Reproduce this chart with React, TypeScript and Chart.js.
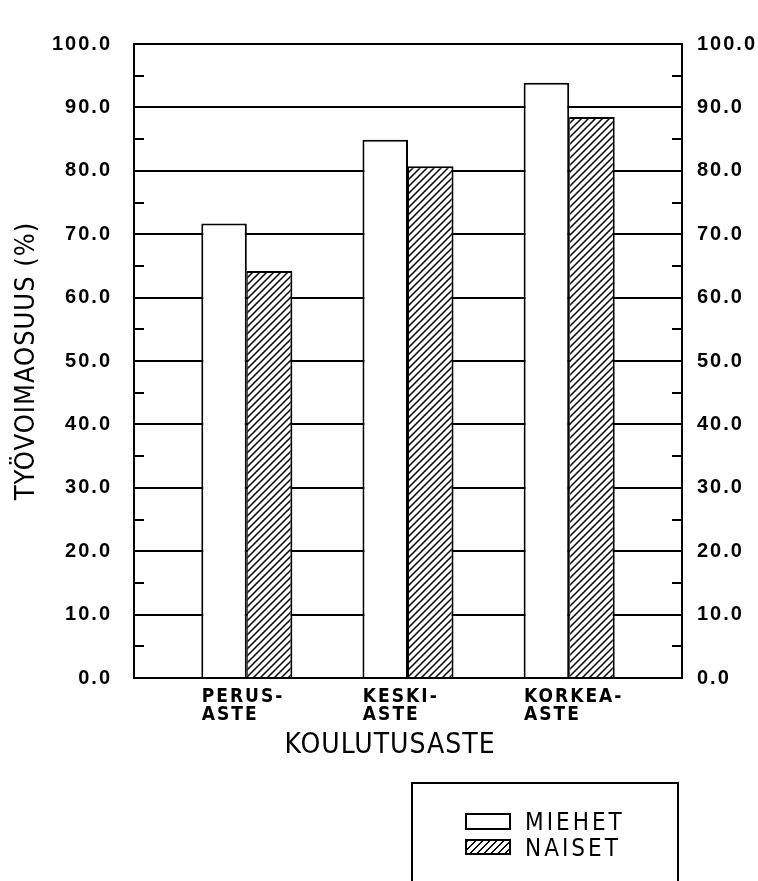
import React, { useEffect, useRef } from "react";
import { Chart, registerables } from "chart.js";

Chart.register(...registerables);

// ---- data ----
const CATEGORIES: string[][] = [
  ["PERUS-", "ASTE"],
  ["KESKI-", "ASTE"],
  ["KORKEA-", "ASTE"],
];
const CATEGORY_INDEX = [0, 1, 2];
const SERIES_NAMES = ["MIEHET", "NAISET"];
const MIEHET = [71.7, 84.9, 93.9];
const NAISET = [64.2, 80.7, 88.5];
const Y_MIN = 0;
const Y_MAX = 100;
const Y_STEP = 5;
const Y_LABEL_STEP = 10;
const X_TITLE = "KOULUTUSASTE";
const Y_TITLE = "TYÖVOIMAOSUUS (%)";

const NARROW = "'Liberation Sans Narrow', 'DejaVu Sans Condensed', 'Arial Narrow', sans-serif";
const SANS = "'Liberation Sans', Arial, sans-serif";

function makeHatch(ctx: CanvasRenderingContext2D) {
  const c = document.createElement("canvas");
  c.width = 7;
  c.height = 7;
  const g = c.getContext("2d")!;
  g.fillStyle = "#fff";
  g.fillRect(0, 0, 7, 7);
  g.strokeStyle = "#000";
  g.lineWidth = 1.5;
  g.beginPath();
  g.moveTo(-1, 8);
  g.lineTo(8, -1);
  g.moveTo(-1, 1);
  g.lineTo(1, -1);
  g.moveTo(6, 8);
  g.lineTo(8, 6);
  g.stroke();
  return ctx.createPattern(c, "repeat");
}

const yTickLabel = (v: any) => {
  const n = Number(v);
  return n % Y_LABEL_STEP === 0 ? n.toFixed(1) : "";
};

const spacingPlugin = {
  id: "spacing",
  beforeDraw(chart: any) {
    chart.ctx.letterSpacing = "1px";
  },
  afterDatasetsDraw(chart: any) {
    chart.ctx.letterSpacing = "2px";
  },
};

export default function App() {
  const ref = useRef<HTMLCanvasElement | null>(null);

  useEffect(() => {
    const canvas = ref.current!;
    const ctx = canvas.getContext("2d")!;
    const hatch = makeHatch(ctx);

    const yTicks = (padding: number) => ({
      stepSize: Y_STEP,
      maxTicksLimit: 50,
      autoSkip: false,
      callback: yTickLabel,
      font: { family: SANS, size: 20, weight: "bold" as const },
      color: "#000",
      padding,
      z: 1,
    });

    const chart = new Chart(ctx, {
      type: "bar",
      data: {
        datasets: [
          {
            label: SERIES_NAMES[0],
            data: CATEGORY_INDEX.map((i) => ({ x: i, y: MIEHET[i] })),
            backgroundColor: "#fff",
            borderColor: "#000",
            borderWidth: { left: 2, top: 2, right: 2, bottom: 0 },
            borderSkipped: false,
            categoryPercentage: 0.565,
            barPercentage: 1,
            xAxisID: "x",
            yAxisID: "y",
          },
          {
            label: SERIES_NAMES[1],
            data: CATEGORY_INDEX.map((i) => ({ x: i, y: NAISET[i] })),
            backgroundColor: hatch as any,
            borderColor: "#000",
            borderWidth: { left: 1, top: 2, right: 2, bottom: 0 },
            borderSkipped: false,
            categoryPercentage: 0.565,
            barPercentage: 1,
            xAxisID: "x",
            yAxisID: "y",
          },
        ],
      },
      options: {
        animation: false,
        responsive: false,
        maintainAspectRatio: false,
        layout: { padding: { left: 0, right: 0, top: 24, bottom: 118 } },
        plugins: {
          legend: { display: false },
          tooltip: { enabled: false },
        },
        scales: {
          x: {
            type: "linear",
            position: "bottom",
            min: -0.7,
            max: 2.7,
            offset: false,
            afterBuildTicks: (s: any) => {
              s.ticks = CATEGORY_INDEX.map((i) => ({ value: i - 0.28 }));
            },
            ticks: {
              autoSkip: false,
              maxRotation: 0,
              minRotation: 0,
              align: "start",
              callback: (_v: any, i: number) => CATEGORIES[i],
              font: { family: NARROW, size: 19, weight: "bold", lineHeight: 0.9 },
              color: "#000",
              padding: 11,
              z: 1,
            },
            grid: { display: false, drawTicks: false },
            border: { display: true, color: "#000", width: 2 },
            title: {
              display: true,
              text: X_TITLE + "\u00a0\u00a0\u00a0\u00a0",
              font: { family: NARROW, size: 28 },
              color: "#000",
              padding: { top: 0, bottom: 0 },
            },
            afterFit: (s: any) => {
              s.height = 85;
            },
          },
          y: {
            type: "linear",
            position: "left",
            min: Y_MIN,
            max: Y_MAX,
            ticks: yTicks(32),
            grid: {
              color: (c: any) =>
                c.tick && c.tick.value % Y_LABEL_STEP === 0 ? "#000" : "rgba(0,0,0,0)",
              lineWidth: 2,
              drawTicks: true,
              tickLength: -10,
              tickColor: "#000",
              tickWidth: 2,
            },
            border: { display: true, color: "#000", width: 2 },
            title: {
              display: true,
              text: Y_TITLE,
              font: { family: NARROW, size: 27 },
              color: "#000",
              padding: { top: 11, bottom: 0 },
            },
            afterFit: (s: any) => {
              s.width = 134;
            },
          },
          y2: {
            type: "linear",
            position: "right",
            display: true,
            min: Y_MIN,
            max: Y_MAX,
            ticks: yTicks(25),
            grid: {
              drawOnChartArea: false,
              color: "#000",
              lineWidth: 2,
              drawTicks: true,
              tickLength: -10,
              tickColor: "#000",
              tickWidth: 2,
            },
            border: { display: true, color: "#000", width: 2 },
            afterFit: (s: any) => {
              s.width = 76;
            },
          },
        },
      } as any,
      plugins: [spacingPlugin],
    });

    return () => chart.destroy();
  }, []);

  const hatchCss =
    "repeating-linear-gradient(135deg, #000 0px, #000 1.4px, #fff 1.4px, #fff 5px)";
  const textStyle: React.CSSProperties = {
    position: "absolute",
    left: 525,
    fontFamily: NARROW,
    fontSize: 24,
    lineHeight: "24px",
    letterSpacing: "3px",
    color: "#000",
    whiteSpace: "nowrap",
  };

  return (
    <div
      style={{
        position: "fixed",
        left: 0,
        top: 0,
        width: 758,
        height: 881,
        overflow: "hidden",
        background: "#fff",
      }}
    >
      <canvas ref={ref} width={758} height={881} style={{ display: "block" }} />
      <div
        style={{
          position: "absolute",
          left: 411,
          top: 782,
          width: 268,
          height: 140,
          border: "2px solid #000",
          boxSizing: "border-box",
        }}
      />
      <div
        style={{
          position: "absolute",
          left: 465,
          top: 813,
          width: 46,
          height: 17,
          border: "2px solid #000",
          boxSizing: "border-box",
          background: "#fff",
        }}
      />
      <div
        style={{
          position: "absolute",
          left: 465,
          top: 839,
          width: 46,
          height: 16,
          border: "2px solid #000",
          boxSizing: "border-box",
          background: hatchCss,
        }}
      />
      <div style={{ ...textStyle, top: 810 }}>{SERIES_NAMES[0]}</div>
      <div style={{ ...textStyle, top: 836 }}>{SERIES_NAMES[1]}</div>
    </div>
  );
}
